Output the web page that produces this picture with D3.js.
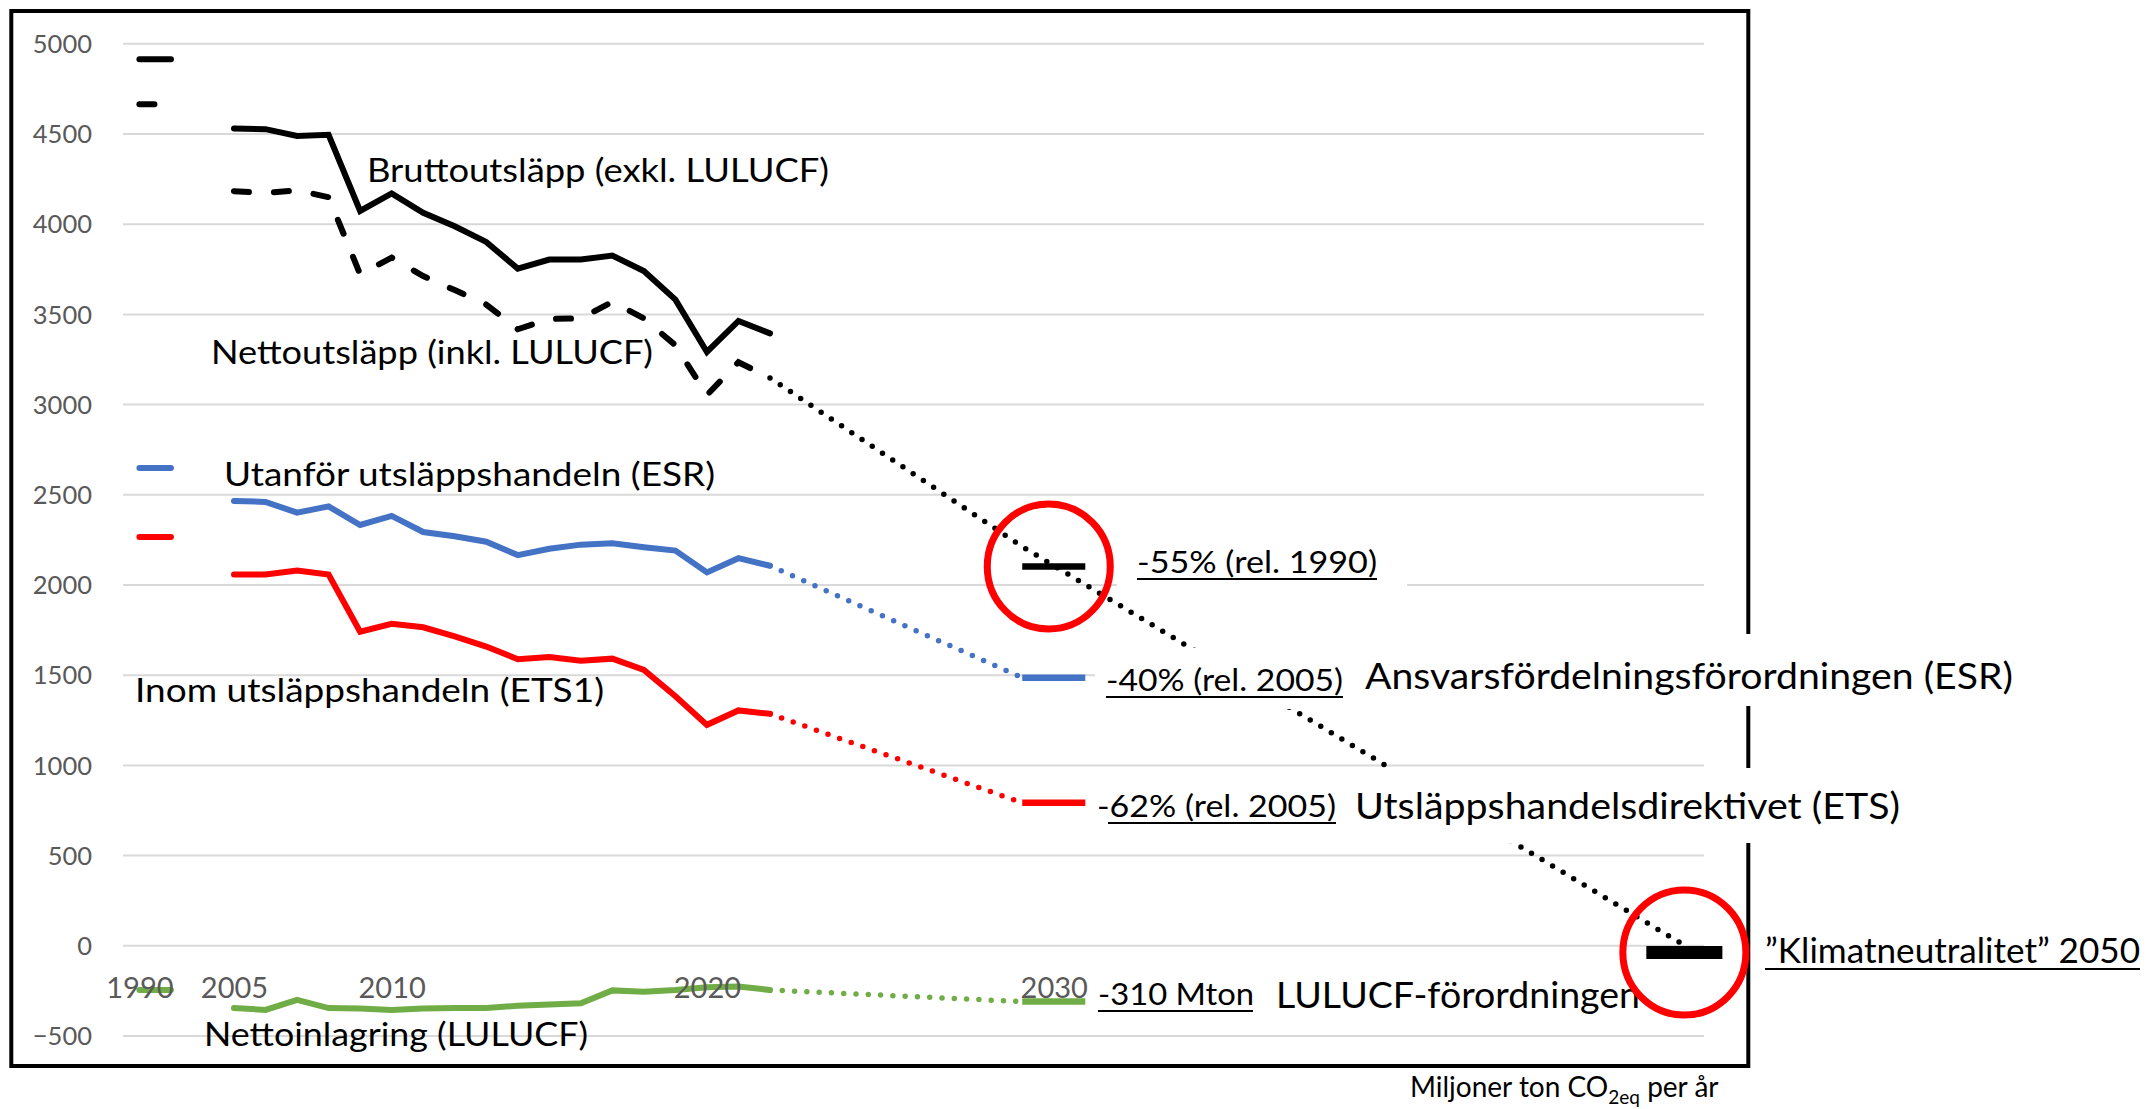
<!DOCTYPE html>
<html>
<head>
<meta charset="utf-8">
<script src="https://cdn.jsdelivr.net/npm/d3@7/dist/d3.min.js"></script>
<style>
  body { margin: 0; background: #fff; }
  svg { display: block; }
  text { font-family: Lato, "Open Sans", sans-serif; }
</style>
</head>
<body>
<svg id="chart"></svg>
<script>
// inventory years and series, Mt CO2eq
var years = d3.range(2005, 2023);
var gross  = [4528, 4524, 4486, 4493, 4071, 4168, 4060, 3986, 3899, 3751, 3801, 3801, 3823, 3738, 3579, 3289, 3461, 3392];
var net    = [4180, 4170, 4185, 4147, 3720, 3812, 3710, 3632, 3552, 3415, 3472, 3475, 3567, 3475, 3326, 3050, 3232, 3145];
var esr    = [2463, 2458, 2398, 2433, 2330, 2380, 2291, 2267, 2237, 2163, 2198, 2221, 2228, 2207, 2188, 2067, 2146, 2104];
var ets    = [2055, 2055, 2078, 2055, 1738, 1782, 1763, 1712, 1656, 1586, 1598, 1577, 1589, 1526, 1381, 1222, 1302, 1283];
var lulucf = [-348, -358, -302, -348, -350, -358, -350, -348, -348, -335, -328, -321, -250, -258, -248, -232, -228, -248];

// 1990 base year values (axis is broken, 1990 sits three slots left of 2005)
var baseYear = 1990;
var baseSlot = 2002;
var base1990 = { gross: 4911, net: 4662, esr: 2646, ets: 2263, lulucf: -248 };

// 2030 targets and the trend toward climate neutrality
var targetYear = 2030;
var targets2030 = { net: 2100, esr: 1483, ets: 790, lulucf: -312 };
var trendYears  = [2022, 2030, 2051];
var trendValues = [3145, 2210, 0];
var neutralYear = 2050;
var neutralValue = -40;

var yTicks = d3.range(-500, 5001, 500);
var xTickLabels = ["1990", "2005", "2010", "2020", "2030"];

var W = 2146, H = 1109;
var plotLeft = 123, plotRight = 1704;

var svg = d3.select("#chart").attr("width", W).attr("height", H);
svg.append("rect").attr("width", W).attr("height", H).attr("fill", "#fff");

var x = d3.scaleLinear().domain([2005, 2022]).range([234, 770]);
var y = d3.scaleLinear().domain([-500, 5000]).range([1035.5, 43.3]);

// gridlines + y labels
var yAxis = d3.axisLeft(y)
    .tickValues(yTicks)
    .tickSize(-(plotRight - plotLeft))
    .tickPadding(31)
    .tickFormat(d3.format("d"));
var gy = svg.append("g").attr("transform", "translate(" + plotLeft + ",0)").call(yAxis);
gy.select(".domain").remove();
gy.selectAll(".tick line").attr("stroke", "#d9d9d9").attr("stroke-width", 2);
gy.selectAll(".tick text")
    .attr("fill", "#595959")
    .style("font-size", "25.5px")
    .attr("dy", "0.36em");

// frame
svg.append("rect")
    .attr("x", 11.3).attr("y", 11)
    .attr("width", 1737).attr("height", 1055)
    .attr("fill", "none").attr("stroke", "#000").attr("stroke-width", 4);

var line = d3.line().x(function(d) { return x(d[0]); }).y(function(d) { return y(d[1]); });

function pairs(vals) {
    return years.map(function(yr, i) { return [yr, vals[i]]; });
}

var series = [
    { key: "gross",  values: gross,  color: "#000000", dash: null },
    { key: "net",    values: net,    color: "#000000", dash: "15 25" },
    { key: "esr",    values: esr,    color: "#4472c4", dash: null },
    { key: "ets",    values: ets,    color: "#ff0000", dash: null },
    { key: "lulucf", values: lulucf, color: "#70ad47", dash: null }
];

var gLines = svg.append("g").attr("fill", "none");

series.forEach(function(s) {
    // historical line
    gLines.append("path")
        .attr("d", line(pairs(s.values)))
        .attr("stroke", s.color)
        .attr("stroke-width", 6)
        .attr("stroke-linecap", "round")
        .attr("stroke-dasharray", s.dash);

    // 1990 base value, one slot wide
    gLines.append("path")
        .attr("d", line([[baseSlot, base1990[s.key]], [baseSlot + 1, base1990[s.key]]]))
        .attr("stroke", s.color)
        .attr("stroke-width", 6)
        .attr("stroke-linecap", "round")
        .attr("stroke-dasharray", s.dash);

    // dotted projection + 2030 target dash
    if (s.key === "gross") return;
    var last = [years[years.length - 1], s.values[s.values.length - 1]];
    var proj = s.key === "net"
        ? trendYears.map(function(yr, i) { return [yr, trendValues[i]]; })
        : [last, [targetYear, targets2030[s.key]]];
    gLines.append("path")
        .attr("d", line(proj))
        .attr("stroke", s.color)
        .attr("stroke-width", 5.5)
        .attr("stroke-linecap", "round")
        .attr("stroke-dasharray", "0 12.3");

    gLines.append("path")
        .attr("d", line([[targetYear, targets2030[s.key]], [targetYear + 2, targets2030[s.key]]]))
        .attr("stroke", s.color)
        .attr("stroke-width", 6.5);
});

// 2050 neutrality bar
gLines.append("path")
    .attr("d", line([[neutralYear, neutralValue], [neutralYear + 2, neutralValue]]))
    .attr("stroke", "#000")
    .attr("stroke-width", 13)
    .attr("stroke-linecap", "square");

// annotation texts, boxes are white like the text boxes in the original
var labels = [
    { text: "Bruttoutsläpp (exkl. LULUCF)", x: 367, y: 182, size: 32, w: 462 },
    { text: "Nettoutsläpp (inkl. LULUCF)", x: 211, y: 364, size: 32, w: 442 },
    { text: "Utanför utsläppshandeln (ESR)", x: 224, y: 486, size: 32, w: 491 },
    { text: "Inom utsläppshandeln (ETS1)", x: 135, y: 702, size: 32, w: 469 },
    { text: "Nettoinlagring (LULUCF)", x: 204, y: 1046, size: 32, w: 384 },
    { text: "-55% (rel. 1990)", x: 1137, y: 573, size: 31, w: 240, u: 1137, box: [1117, 540, 1407, 592] },
    { text: "-40% (rel. 2005)", x: 1106, y: 691, size: 31, w: 237, u: 1106, box: [1095, 648, 1352, 709] },
    { text: "Ansvarsfördelningsförordningen (ESR)", x: 1365, y: 689, size: 36, w: 648, box: [1352, 634, 2025, 706] },
    { text: "-62% (rel. 2005)", x: 1097, y: 817, size: 31, w: 239, u: 1108, box: [1093, 775, 1345, 835] },
    { text: "Utsläppshandelsdirektivet (ETS)", x: 1355, y: 819, size: 36, w: 545, box: [1345, 768, 1910, 843] },
    { text: "-310 Mton", x: 1098, y: 1005, size: 31, w: 156, u: 1098, box: [1093, 975, 1253, 1022] },
    { text: "LULUCF-förordningen", x: 1276, y: 1008, size: 36, w: 364, box: [1253, 972, 1650, 1022] },
    { text: "\u201dKlimatneutralitet\u201d 2050", x: 1765, y: 963, size: 35, w: 375, u: 1765 }
];

var gLab = svg.append("g");
labels.forEach(function(l) {
    if (l.box) {
        gLab.append("rect")
            .attr("x", l.box[0]).attr("y", l.box[1])
            .attr("width", l.box[2] - l.box[0]).attr("height", l.box[3] - l.box[1])
            .attr("fill", "#fff");
    }
    gLab.append("text")
        .attr("x", l.x).attr("y", l.y)
        .style("font-size", l.size + "px")
        .attr("fill", "#000")
        .attr("textLength", l.w)
        .attr("lengthAdjust", "spacingAndGlyphs")
        .text(l.text);
    if (l.u !== undefined) {
        gLab.append("line")
            .attr("x1", l.u).attr("x2", l.x + l.w)
            .attr("y1", l.y + 6).attr("y2", l.y + 6)
            .attr("stroke", "#000").attr("stroke-width", 2.2);
    }
});

// unit label
var unit = svg.append("text").attr("x", 1410).attr("y", 1097).style("font-size", "28px").attr("fill", "#000");
unit.append("tspan").text("Miljoner ton CO");
unit.append("tspan").attr("dy", 7).style("font-size", "19px").text("2eq");
unit.append("tspan").attr("dy", -7).text(" per år");

// red circles around the 2030 net target and 2050 neutrality
var circles = [
    { cx: (x(targetYear) + x(targetYear + 2)) / 2 - 5, cy: y(targets2030.net) },
    { cx: (x(neutralYear) + x(neutralYear + 2)) / 2, cy: y(neutralValue) }
];
svg.append("g").selectAll("ellipse").data(circles).enter().append("ellipse")
    .attr("cx", function(d) { return d.cx; })
    .attr("cy", function(d) { return d.cy; })
    .attr("rx", 61.5).attr("ry", 62.5)
    .attr("fill", "none").attr("stroke", "#ff0000").attr("stroke-width", 7);

// category labels along the zero line
function tickPos(label) {
    var yr = +label;
    if (yr === baseYear) return baseSlot;
    if (yr === targetYear) return targetYear + 1;
    return yr;
}
var xAxis = d3.axisBottom(x)
    .tickValues(xTickLabels.map(tickPos))
    .tickSize(0)
    .tickPadding(32)
    .tickFormat(function(d, i) { return xTickLabels[i]; });
var gx = svg.append("g").attr("transform", "translate(0," + y(0) + ")").call(xAxis);
gx.select(".domain").remove();
gx.selectAll(".tick text").attr("fill", "#595959").style("font-size", "29px");
</script>
</body>
</html>
